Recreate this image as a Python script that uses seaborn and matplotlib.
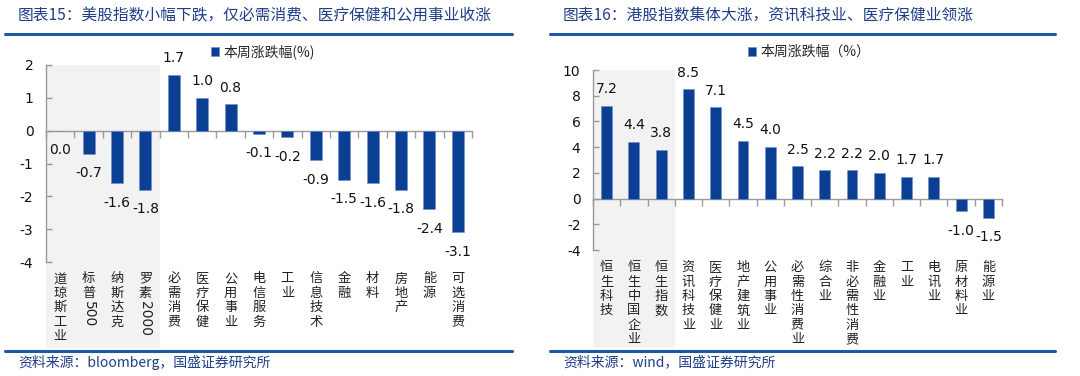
import numpy as np
import pandas as pd
import matplotlib
matplotlib.use('Agg')
import matplotlib.pyplot as plt
import matplotlib.transforms as mtransforms
from matplotlib.lines import Line2D
import seaborn as sns

# ---------------- data ----------------
us_categories = ['道琼斯工业', '标普500', '纳斯达克', '罗素2000', '必需消费', '医疗保健', '公用事业',
                 '电信服务', '工业', '信息技术', '金融', '材料', '房地产', '能源', '可选消费']
us_values = [0.0, -0.7, -1.6, -1.8, 1.7, 1.0, 0.8, -0.1, -0.2, -0.9, -1.5, -1.6, -1.8, -2.4, -3.1]
us_yticks = [-4, -3, -2, -1, 0, 1, 2]
us_title = '图表15：美股指数小幅下跌，仅必需消费、医疗保健和公用事业收涨'
us_legend = '本周涨跌幅(%)'
us_source = '资料来源：bloomberg，国盛证券研究所'

hk_categories = ['恒生科技', '恒生中国企业', '恒生指数', '资讯科技业', '医疗保健业', '地产建筑业', '公用事业',
                 '必需性消费业', '综合业', '非必需性消费', '金融业', '工业', '电讯业', '原材料业', '能源业']
hk_values = [7.2, 4.4, 3.8, 8.5, 7.1, 4.5, 4.0, 2.5, 2.2, 2.2, 2.0, 1.7, 1.7, -1.0, -1.5]
hk_yticks = [-4, -2, 0, 2, 4, 6, 8, 10]
hk_title = '图表16：港股指数集体大涨，资讯科技业、医疗保健业领涨'
hk_legend = '本周涨跌幅（%）'
hk_source = '资料来源：wind，国盛证券研究所'

# ---------------- style ----------------
sns.set_theme(style='white')
plt.rcParams['font.family'] = ['DejaVu Sans', 'Noto Sans CJK SC']
CJK = ['Noto Sans CJK SC', 'DejaVu Sans']
BAR = '#0B3F94'
NAVY = '#1F3F86'
RULE = '#1E56A8'
GRAY = '#9A9A9A'
SHADE = '#F2F2F2'

W, H = 1080, 376
fig = plt.figure(figsize=(W / 100, H / 100), dpi=100, facecolor='white')


def fx(px):
    return px / W


def fy(py):
    return 1 - py / H


def split_label(s):
    cjk = ''.join(c for c in s if not c.isdigit())
    dig = ''.join(c for c in s if c.isdigit())
    return cjk, dig


def panel(rect, cats, vals, yticks, n_shade, legend_label, legend_xy, shade_below, bar_w, lab_pad):
    left, top, right, bottom = rect
    ax = fig.add_axes([fx(left), fy(bottom), fx(right - left), (bottom - top) / H])
    df = pd.DataFrame({'cat': cats, 'val': vals})
    sns.barplot(data=df, x='cat', y='val', color=BAR, width=bar_w, ax=ax,
                label=legend_label, saturation=1, edgecolor='#6E8FC8', linewidth=0.4, zorder=3)
    n = len(cats)
    ymin, ymax = min(yticks), max(yticks)
    ax.set_xlim(-0.5, n - 0.5)
    ax.set_ylim(ymin, ymax)
    ax.set_xlabel('')
    ax.set_ylabel('')
    ax.axvspan(-0.5, n_shade - 0.5, ymin=-shade_below, ymax=1, color=SHADE, zorder=0,
               clip_on=False, lw=0)
    # y axis
    ax.set_yticks(yticks)
    ax.set_yticklabels([str(t) for t in yticks])
    ax.tick_params(axis='y', direction='in', length=4, color=GRAY, width=1, pad=9,
                   labelsize=10, labelcolor='#111111', left=True)
    for sp in ['top', 'right', 'bottom']:
        ax.spines[sp].set_visible(False)
    ax.spines['left'].set_color(GRAY)
    ax.spines['left'].set_linewidth(1)
    # x category labels (stacked vertically)
    ax.set_xticks(range(n))
    ax.set_xticklabels(['\n'.join(split_label(c)[0]) for c in cats], va='top', ha='center',
                       linespacing=1.14, fontsize=9.5, family=CJK, color='#222222')
    ax.tick_params(axis='x', length=0, pad=lab_pad, bottom=False)
    # zero line with category boundary ticks
    loc0 = (0 - ymin) / (ymax - ymin)
    sec = ax.secondary_xaxis(loc0)
    sec.set_xticks(np.arange(-0.5, n, 1.0))
    sec.xaxis.set_ticks_position('bottom')
    sec.tick_params(axis='x', direction='out', length=5, color=GRAY, width=1,
                    labelbottom=False, labeltop=False, bottom=True, top=False)
    for sp in sec.spines.values():
        sp.set_visible(False)
    sec.spines['bottom'].set_visible(True)
    sec.spines['bottom'].set_color(GRAY)
    sec.spines['bottom'].set_linewidth(1)
    # value labels
    for i, v in enumerate(vals):
        off = 12 if v > 0 else -14
        ax.annotate(f'{v:.1f}', xy=(i, v), xytext=(0, off), textcoords='offset points',
                    ha='center', va='center', fontsize=10, color='#111111', zorder=5)
    # legend
    ax.legend(loc='center left', bbox_to_anchor=legend_xy, bbox_transform=fig.transFigure,
              frameon=False, handlelength=0.6, handleheight=0.6, handletextpad=0.3,
              borderaxespad=0, borderpad=0, prop={'family': CJK, 'size': 10})
    return ax


ax1 = panel((46, 65, 472, 262), us_categories, us_values, us_yticks, 4, us_legend,
            (fx(211), fy(52)), 0.437, 0.42, 7.5)
ax2 = panel((593, 70, 1002, 250), hk_categories, hk_values, hk_yticks, 3, hk_legend,
            (fx(748), fy(52)), 0.54, 0.40, 8)

# titles, rules, sources
for x0, x1, tx, title, source in [(5, 512, 18, us_title, us_source),
                                  (550, 1055, 563, hk_title, hk_source)]:
    fig.text(fx(tx), fy(16), title, family=CJK, fontsize=11.3, color=NAVY, ha='left', va='center')
    fig.add_artist(Line2D([fx(x0), fx(x1)], [fy(34), fy(34)], color=RULE, lw=2.2))
    fig.add_artist(Line2D([fx(x0), fx(x1)], [fy(351), fy(351)], color=RULE, lw=2.2))
    fig.text(fx(tx), fy(362), source, family=CJK, fontsize=10, color=NAVY, ha='left', va='center')

# digit parts of category labels, rotated, placed right under the stacked characters
fig.canvas.draw()
renderer = fig.canvas.get_renderer()
for ax, cats in [(ax1, us_categories), (ax2, hk_categories)]:
    tr = mtransforms.blended_transform_factory(ax.transData, ax.transAxes)
    for i, (c, lab) in enumerate(zip(cats, ax.get_xticklabels())):
        _, dig = split_label(c)
        if not dig:
            continue
        bb = lab.get_window_extent(renderer)
        yfrac = ax.transAxes.inverted().transform((0, bb.y0 - 1))[1]
        ax.text(i, yfrac, dig, transform=tr, rotation=-90, ha='center', va='top',
                fontsize=10, color='#222222', clip_on=False)

fig.savefig('out.png', dpi=100, facecolor='white')
